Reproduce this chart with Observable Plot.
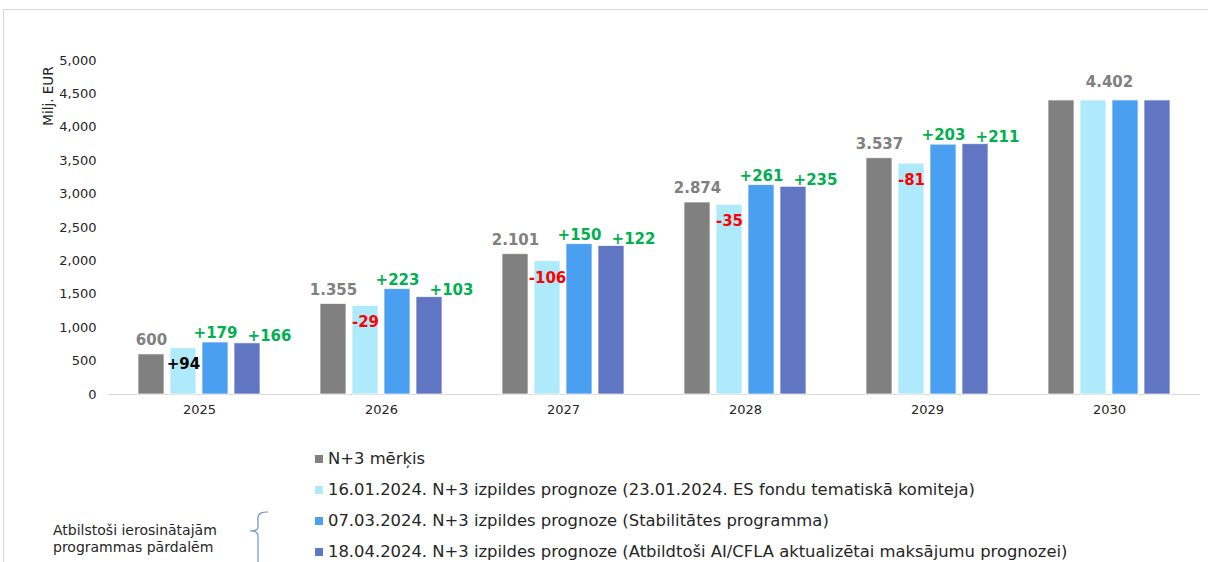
<!DOCTYPE html>
<html><head><meta charset="utf-8">
<script src="https://cdn.jsdelivr.net/npm/d3@7"></script>
<script src="https://cdn.jsdelivr.net/npm/@observablehq/plot@0.6"></script>
<style>
body{margin:0;background:#fff;font-family:"DejaVu Sans",Verdana,sans-serif;width:1208px;height:562px;overflow:hidden;position:relative}
#frame{position:absolute;left:3px;top:9px;width:1205px;height:553px;border-top:1px solid #d9d9d9;border-left:1px solid #d9d9d9;box-sizing:border-box}
#chart{position:absolute;left:0;top:0}
#ylab{position:absolute;left:48px;top:96px;transform:translate(-50%,-50%) rotate(-90deg);font-size:13.5px;color:#262626;white-space:nowrap}
#legend{position:absolute;left:315px;top:443px;font-size:16.4px;color:#262626}
.row{height:31px;display:flex;align-items:center;white-space:nowrap}
.sw{width:8px;height:8px;margin-right:5px;flex:none}
#note{position:absolute;left:53px;top:522px;font-size:14px;line-height:17px;color:#262626}
#brace{position:absolute;left:240px;top:505px}
</style></head><body>
<div id="frame"></div>
<div id="chart"></div>
<div id="ylab">Milj. EUR</div>
<div id="legend"></div>
<div id="note">Atbilstoši ierosinātajām<br>programmas pārdalēm</div>
<svg id="brace" width="40" height="57"><path d="M28 7 C22 7 18 8 18 13 L18 22 C18 25 15 26 10 26 C15 26 18 27 18 31 L18 57" fill="none" stroke="#6f95d0" stroke-width="1.2"/></svg>
<script>
const years = ["2025","2026","2027","2028","2029","2030"];
const seriesNames = [
  "N+3 mērķis",
  "16.01.2024. N+3 izpildes prognoze (23.01.2024. ES fondu tematiskā komiteja)",
  "07.03.2024. N+3 izpildes prognoze (Stabilitātes programma)",
  "18.04.2024. N+3 izpildes prognoze (Atbildtoši AI/CFLA aktualizētai maksājumu prognozei)"
];
const target = [600, 1355, 2101, 2874, 3537, 4402];
const fc0116 = [694, 1326, 1995, 2839, 3456, 4402];
const fc0703 = [779, 1578, 2251, 3135, 3740, 4402];
const fc1804 = [766, 1458, 2223, 3109, 3748, 4402];
const targetLabels = ["600", "1.355", "2.101", "2.874", "3.537", "4.402"];
const diff0116 = ["+94", "-29", "-106", "-35", "-81", ""];
const diff0703 = ["+179", "+223", "+150", "+261", "+203", ""];
const diff1804 = ["+166", "+103", "+122", "+235", "+211", ""];
const yTicks = [0, 500, 1000, 1500, 2000, 2500, 3000, 3500, 4000, 4500, 5000];
const colors = ["#808080", "#aeeafb", "#4a9ff0", "#6176c2"];

const seriesValues = [target, fc0116, fc0703, fc1804];
const bars = [];
years.forEach((y, i) => seriesValues.forEach((vals, s) => bars.push({year: y, s, value: vals[i]})));
const tgtRows = years.map((y, i) => ({year: y, s: 0, value: target[i], text: targetLabels[i]}));
const mk = (vals, labs, s) => years.map((y, i) => ({year: y, s, value: vals[i], text: labs[i]})).filter(d => d.text);
const d1 = mk(fc0116, diff0116, 1), d2 = mk(fc0703, diff0703, 2), d3r = mk(fc1804, diff1804, 3);
const lblFont = {fontSize: 15, fontWeight: "bold", fontFamily: "DejaVu Sans"};

const chart = Plot.plot({
  width: 1208, height: 425,
  marginLeft: 106, marginRight: 7, marginTop: 60, marginBottom: 31,
  style: {fontFamily: "DejaVu Sans", fontSize: "13px", color: "#262626", background: "transparent"},
  fx: {domain: years, padding: 0, axis: "bottom", tickSize: 0, tickPadding: 10, label: null},
  x: {domain: [0, 1, 2, 3], paddingInner: 0.18, paddingOuter: 0.854, axis: null},
  y: {domain: [0, 5000], ticks: yTicks, tickFormat: d3.format(","), tickSize: 0, tickPadding: 12, label: null},
  color: {type: "ordinal", domain: [0, 1, 2, 3], range: colors},
  marks: [
    Plot.ruleY([0], {stroke: "#d9d9d9", strokeWidth: 1.2}),
    Plot.barY(bars, {fx: "year", x: "s", y: "value", fill: "s", stroke: "#ffffff", strokeOpacity: 0.7}),
    Plot.text(tgtRows.slice(0, 5), {fx: "year", x: "s", y: "value", text: "text", dy: -14, fill: "#808080", ...lblFont}),
    Plot.text(tgtRows.slice(5), {fx: "year", y: "value", text: "text", dy: -18, fill: "#808080", ...lblFont}),
    Plot.text(d1.filter(d => d.text.startsWith("+")), {fx: "year", x: "s", y: "value", text: "text", dy: 16.5, fill: "#000000", ...lblFont}),
    Plot.text(d1.filter(d => d.text.startsWith("-")), {fx: "year", x: "s", y: "value", text: "text", dy: 16.5, fill: "#ff0000", ...lblFont}),
    Plot.text(d2, {fx: "year", x: "s", y: "value", text: "text", dy: -9, fill: "#00b050", ...lblFont}),
    Plot.text(d3r, {fx: "year", x: "s", y: "value", text: "text", dx: 22, dy: -7, fill: "#00b050", ...lblFont})
  ]
});
document.getElementById("chart").appendChild(chart);

const legend = document.getElementById("legend");
seriesNames.forEach((n, i) => {
  const r = document.createElement("div"); r.className = "row";
  const sw = document.createElement("span"); sw.className = "sw"; sw.style.background = colors[i];
  const t = document.createElement("span"); t.textContent = n;
  r.appendChild(sw); r.appendChild(t); legend.appendChild(r);
});
</script>
</body></html>
